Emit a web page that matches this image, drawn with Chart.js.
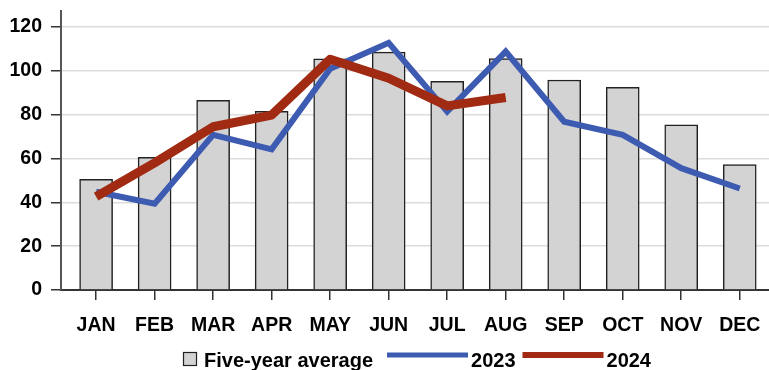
<!DOCTYPE html>
<html>
<head>
<meta charset="utf-8">
<script src="https://cdn.jsdelivr.net/npm/chart.js@4.4.1/dist/chart.umd.min.js"></script>
<style>
  html, body { margin: 0; padding: 0; background: #fff; }
  #wrap { width: 769px; height: 370px; position: relative; }
</style>
</head>
<body>
<div id="wrap"><canvas id="c" width="769" height="370"></canvas></div>
<script>
const months = ['JAN','FEB','MAR','APR','MAY','JUN','JUL','AUG','SEP','OCT','NOV','DEC'];
const fiveYearAvg = [50.5, 60.5, 86.5, 81.5, 105.5, 108.5, 95.2, 105.6, 95.8, 92.5, 75.4, 57.2];
const y2023 = [44.8, 39.4, 70.8, 64.2, 101, 112.8, 81.4, 108.8, 76.8, 70.8, 55.6, 46.3];
const y2024 = [42.6, 58, 74.5, 79.8, 105.3, 96.6, 84, 87.8];
const yTicks = [0, 20, 40, 60, 80, 100, 120];
const seriesNames = ['Five-year average', '2023', '2024'];

const FONT = '"Liberation Sans", Arial, sans-serif';
const BLUE = '#3e5bb2';
const RED = '#a02a12';
const GREY = '#d3d3d3';

const toXY = arr => arr.map((v, i) => ({ x: i, y: v }));

const legendPlugin = {
  id: 'customLegend',
  afterDraw(chart) {
    const ctx = chart.ctx;
    const ca = chart.chartArea;
    ctx.save();
    ctx.font = 'bold 20px ' + FONT;
    ctx.textBaseline = 'alphabetic';
    const w0 = ctx.measureText(seriesNames[0]).width;
    const w1 = ctx.measureText(seriesNames[1]).width;
    const w2 = ctx.measureText(seriesNames[2]).width;
    const box = 14, gapBox = 7, gapItem = 14, lineLen = 81, gapLine = 3, gapItem2 = 7;
    const total = box + gapBox + w0 + gapItem + lineLen + gapLine + w1 + gapItem2 + lineLen + gapLine + w2;
    let x = (ca.left + ca.right) / 2 - total / 2 + 2;
    const base = 367;
    const midY = 355;
    ctx.fillStyle = GREY;
    ctx.fillRect(x, 352, box, box);
    ctx.strokeStyle = '#222';
    ctx.lineWidth = 1.2;
    ctx.strokeRect(x + 0.5, 352.5, box - 1, box - 1);
    x += box + gapBox;
    ctx.fillStyle = '#000';
    ctx.fillText(seriesNames[0], x, base);
    x += w0 + gapItem;
    ctx.fillStyle = BLUE;
    ctx.fillRect(x, midY - 2.5, lineLen, 5);
    x += lineLen + gapLine;
    ctx.fillStyle = '#000';
    ctx.fillText(seriesNames[1], x, base);
    x += w1 + gapItem2;
    ctx.fillStyle = RED;
    ctx.fillRect(x, midY - 3, lineLen, 6);
    x += lineLen + gapLine;
    ctx.fillStyle = '#000';
    ctx.fillText(seriesNames[2], x, base);
    ctx.restore();
  }
};

new Chart(document.getElementById('c'), {
  type: 'bar',
  data: {
    datasets: [
      {
        type: 'line',
        label: seriesNames[2],
        data: toXY(y2024),
        borderColor: RED,
        backgroundColor: RED,
        borderWidth: 9,
        pointRadius: 0,
        borderJoinStyle: 'round',
        borderCapStyle: 'butt',
        tension: 0,
        order: 0
      },
      {
        type: 'line',
        label: seriesNames[1],
        data: toXY(y2023),
        borderColor: BLUE,
        backgroundColor: BLUE,
        borderWidth: 6,
        pointRadius: 0,
        borderJoinStyle: 'miter',
        borderCapStyle: 'butt',
        tension: 0,
        order: 1
      },
      {
        type: 'bar',
        label: seriesNames[0],
        data: toXY(fiveYearAvg),
        backgroundColor: GREY,
        borderColor: '#222',
        borderWidth: 1.5,
        barThickness: 33,
        order: 2
      }
    ]
  },
  options: {
    responsive: false,
    animation: false,
    devicePixelRatio: 1,
    layout: { padding: { top: 11, right: 0, bottom: 0, left: 0 } },
    plugins: {
      legend: { display: false },
      tooltip: { enabled: false }
    },
    scales: {
      x: {
        type: 'linear',
        offset: false,
        min: -0.6,
        max: 11.5,
        afterBuildTicks(scale) {
          scale.ticks = months.map((m, i) => ({ value: i }));
        },
        afterFit(scale) { scale.height = 80; scale.paddingLeft = 0; scale.paddingRight = 0; },
        ticks: {
          callback: (v) => months[v],
          font: { family: FONT, size: 19.5, weight: 'bold' },
          color: '#000',
          padding: 14,
          maxRotation: 0,
          autoSkip: false
        },
        grid: {
          offset: false,
          drawOnChartArea: false,
          drawTicks: true,
          tickLength: 10,
          tickColor: '#333',
          lineWidth: 1.5
        },
        border: { display: true, color: '#333', width: 2 }
      },
      y: {
        min: 0,
        max: 127.3,
        afterBuildTicks(scale) {
          scale.ticks = yTicks.map(v => ({ value: v }));
        },
        afterFit(scale) { scale.width = 61; scale.paddingTop = 0; scale.paddingBottom = 0; },
        ticks: {
          font: { family: FONT, size: 19.5, weight: 'bold' },
          color: '#000',
          padding: 9,
          includeBounds: false
        },
        grid: {
          color: '#dcdcdc',
          lineWidth: 1.5,
          tickLength: 10,
          tickColor: '#333'
        },
        border: { display: true, color: '#555', width: 2 }
      }
    }
  },
  plugins: [legendPlugin]
});
</script>
</body>
</html>
